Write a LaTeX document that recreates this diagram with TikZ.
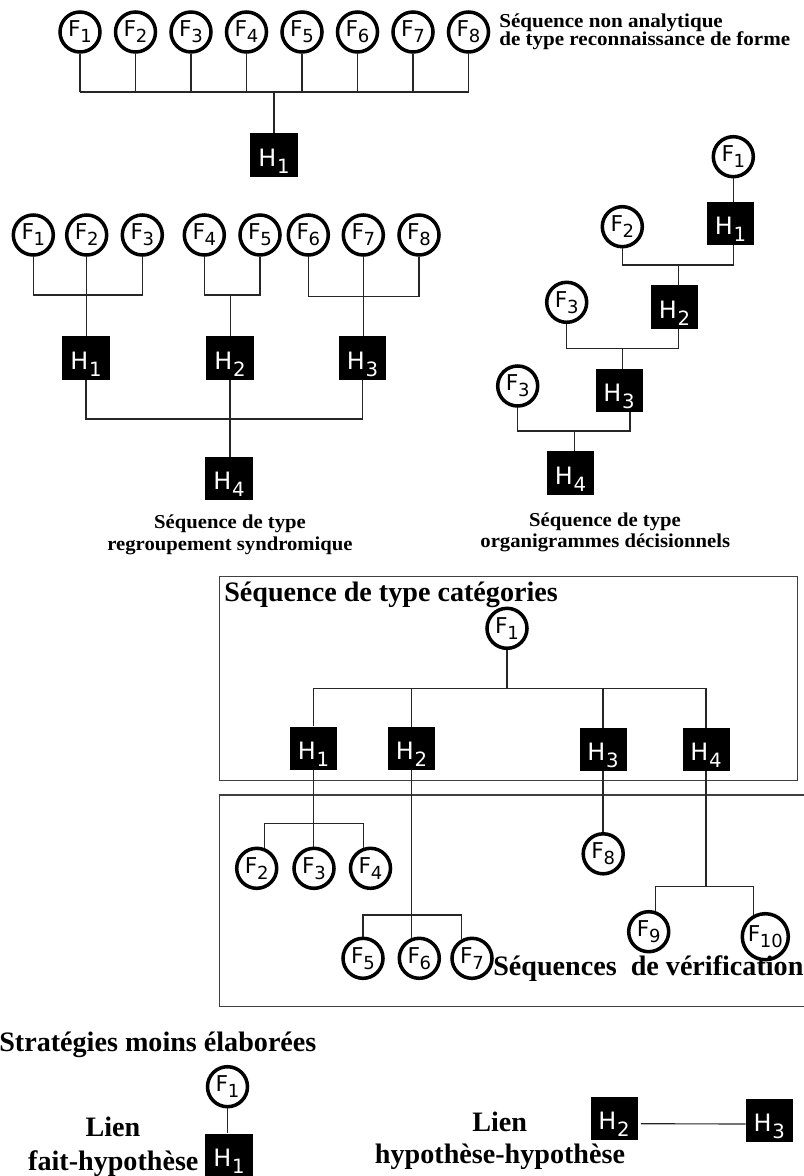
\documentclass[tikz,border=0pt]{standalone}
\usepackage{fontspec}
\usepackage{graphicx}
\setmainfont{Liberation Serif}
\newfontfamily\sansf{DejaVu Sans}
\usepackage{tikz}
\usetikzlibrary{calc}
\newcommand{\Fi}[1]{F\kern-0.3pt\raisebox{-4.3pt}{\fontsize{12.8}{13}\selectfont #1}}
\newcommand{\Hi}[1]{H\kern0.6pt\raisebox{-5pt}{\fontsize{14}{14}\selectfont #1}}
\tikzset{
  fait/.style={circle,draw,line width=2.5pt,inner sep=0pt,minimum size=1cm,
    font=\sansf\fontsize{15.5}{16}\selectfont},
  hyp/.style={rectangle,fill=black,text=white,inner sep=0pt,
    minimum width=1.175cm,minimum height=1.075cm,text height=17pt,text depth=1pt,
    font=\sansf\fontsize{17}{17}\selectfont},
  lien/.style={draw=black!85,line width=0.8pt},
  cadre/.style={draw=black!75,line width=1pt},
  titre/.style={inner sep=0pt,font=\bfseries\fontsize{20}{24}\selectfont},
  legende/.style={inner sep=0pt,anchor=base,font=\bfseries\fontsize{14}{15}\selectfont},
  entete/.style={inner sep=0pt,anchor=base west,font=\bfseries\fontsize{14}{15}\selectfont}
}

\begin{document}
\begin{tikzpicture}[x=0.025cm,y=-0.025cm]
  \useasboundingbox (0,0) rectangle (803,1176);

  % sequence non analytique
  \foreach \i in {1,...,8}
    \node[fait] (a\i) at ({80+(\i-1)*55.5},32) {\Fi{\i}};
  \node[hyp] (ah) at (274,155) {\Hi{1}};
  \coordinate (abar) at (274,92);
  \foreach \i in {1,...,8}
    \draw[lien] (a\i.south) -- (a\i.south |- abar);
  \draw[lien] (a1.south |- abar) -- (a8.south |- abar);
  \draw[lien] (abar) -- (ah.north);
  \node[entete] (ta) at (499,28) {\scalebox{1.07}[1]{Séquence non analytique}};
  \node[entete] (tb) at (499,46) {\scalebox{1.07}[1]{de type reconnaissance de forme}};

  % regroupement syndromique
  \foreach \i/\x in {1/33.3,2/86.7,3/142.3,4/204.3,5/260,6/308.3,7/363.3,8/419}
    \node[fait] (b\i) at (\x,235) {\Fi{\i}};
  \node[hyp] (bh1) at (86,358) {\Hi{1}};
  \node[hyp] (bh2) at (230,358) {\Hi{2}};
  \node[hyp] (bh3) at (362.5,358) {\Hi{3}};
  \node[hyp] (bh4) at (229,478.7) {\Hi{4}};
  \coordinate (bj1) at (86.7,295);
  \coordinate (bj2) at (230.7,295);
  \coordinate (bj3) at (363.3,296.3);
  \coordinate (bj4) at (229,419);
  \draw[lien] (b1.south) |- (bj1) -| (b3.south);
  \draw[lien] (b2.south) -- (b2.south |- bh1.north);
  \draw[lien] (b4.south) |- (bj2) -| (b5.south);
  \draw[lien] (bj2) -- (bj2 |- bh2.north);
  \draw[lien] (b6.south) |- (bj3) -| (b8.south);
  \draw[lien] (b7.south) -- (b7.south |- bh3.north);
  \draw[lien] (bh1.south) |- (bj4) -| (bh3.south);
  \draw[lien] (bh2.south) -- (bh2.south |- bh4.north);
  \node[legende] (tc) at (230,528.3) {\scalebox{1.05}[1]{Séquence de type}};
  \node[legende] (td) at (230,550.3) {\scalebox{1.05}[1]{regroupement syndromique}};

  % organigrammes decisionnels
  \node[fait] (cf1) at (733.3,156.7) {\Fi{1}};
  \node[hyp] (ch1) at (730.5,223.7) {\Hi{1}};
  \node[fait] (cf2) at (622.3,226.7) {\Fi{2}};
  \node[hyp] (ch2) at (674.5,307) {\Hi{2}};
  \node[fait] (cf3) at (566.7,302.3) {\Fi{3}};
  \node[hyp] (ch3) at (619,390.3) {\Hi{3}};
  \node[fait] (cf4) at (517.7,386) {\Fi{3}};
  \node[hyp] (ch4) at (570.5,473) {\Hi{4}};
  \coordinate (cj1) at (678.3,265);
  \coordinate (cj2) at (622.7,348.3);
  \coordinate (cj3) at (574.3,431);
  \draw[lien] (cf1.south) -- (cf1.south |- ch1.north);
  \draw[lien] (cf2.south) |- (cj1) -| (cf1.south |- ch1.south);
  \draw[lien] (cj1) -- (cj1 |- ch2.north);
  \draw[lien] (cf3.south) |- (cj2) -| (cj1 |- ch2.south);
  \draw[lien] (cj2) -- (cj2 |- ch3.north);
  \draw[lien] (cf4.south) |- (cj3) -| ($(ch3.south)+(11,0)$);
  \draw[lien] (cj3) -- (cj3 |- ch4.north);
  \node[legende] (te) at (605,526.7) {\scalebox{1.05}[1]{Séquence de type}};
  \node[legende] (tf) at (605.3,547.3) {\scalebox{1.05}[1]{organigrammes décisionnels}};

  % categories et verification
  \draw[cadre] (219.3,576.7) rectangle (797.7,780.7);
  \draw[cadre] (219.3,795) rectangle (812,1006.7);
  \node[titre,anchor=base west] (tg) at (224,601.7) {Séquence de type catégories};
  \node[fait] (df1) at (507,628.3) {\Fi{1}};
  \node[hyp] (dh1) at (313.5,748) {\Hi{1}};
  \node[hyp] (dh2) at (411.5,748.7) {\Hi{2}};
  \node[hyp] (dh3) at (603,749.7) {\Hi{3}};
  \node[hyp] (dh4) at (706,749.3) {\Hi{4}};
  \coordinate (dbar) at (507,688.3);
  \draw[lien] (df1.south) -- (dbar);
  \draw[lien] (dh1.north) |- (dbar) -| (dh4.north);
  \draw[lien] (dh2.north) -- (dh2.north |- dbar);
  \draw[lien] (dh3.north) -- (dh3.north |- dbar);

  \node[fait] (ef2) at (256.7,868.3) {\Fi{2}};
  \node[fait] (ef3) at (314,868.3) {\Fi{3}};
  \node[fait] (ef4) at (370.5,868.3) {\Fi{4}};
  \node[fait] (ef5) at (363,958.3) {\Fi{5}};
  \node[fait] (ef6) at (419.3,958.3) {\Fi{6}};
  \node[fait] (ef7) at (472,958.3) {\Fi{7}};
  \node[fait] (ef8) at (603.2,853.8) {\Fi{8}};
  \node[fait] (ef9) at (648.7,931.7) {\Fi{9}};
  \node[fait,minimum size=1.15cm] (ef10) at (765.3,936.7) {\Fi{10}};
  \coordinate (ebar1) at (314,823.3);
  \coordinate (ebar2) at (412,915);
  \coordinate (ebar3) at (705,886.7);
  \draw[lien] (dh1.south) -- (dh1.south |- ef3.north);
  \draw[lien] (ef2.70) |- (ebar1) -| (ef4.110);
  \draw[lien] (dh2.south) -- (dh2.south |- ef6.110);
  \draw[lien] (ef5.north) |- (ebar2) -| (ef7.118);
  \draw[lien] (dh3.south) -- (dh3.south |- ef8.north);
  \draw[lien] (dh4.south) -- (dh4.south |- ebar3);
  \draw[lien] (ef9.72) |- (ebar3) -| (ef10.118);
  \node[titre,anchor=base west] (th) at (493,975) {Séquences\ \ de vérification};

  % strategies moins elaborees
  \node[titre,anchor=base west] (ti) at (-1,1051.7) {Stratégies moins élaborées};
  \node[fait] (ff1) at (227.5,1086.7) {\Fi{1}};
  \node[hyp] (fh1) at (229,1155) {\Hi{1}};
  \draw[lien] (ff1.south) -- (ff1.south |- fh1.north);
  \node[titre,anchor=base] (tj) at (113,1136.7) {Lien};
  \node[titre,anchor=base] (tk) at (113.3,1170) {fait-hypothèse};

  \node[hyp] (fh2) at (614,1118.7) {\Hi{2}};
  \node[hyp] (fh3) at (769.3,1120) {\Hi{3}};
  \draw[lien] ($(fh2.east)+(3,5)$) -- ($(fh3.west)+(0,4)$);
  \node[titre,anchor=base] (tl) at (499.7,1131.7) {Lien};
  \node[titre,anchor=base] (tm) at (500,1163.3) {hypothèse-hypothèse};
\end{tikzpicture}
\end{document}
